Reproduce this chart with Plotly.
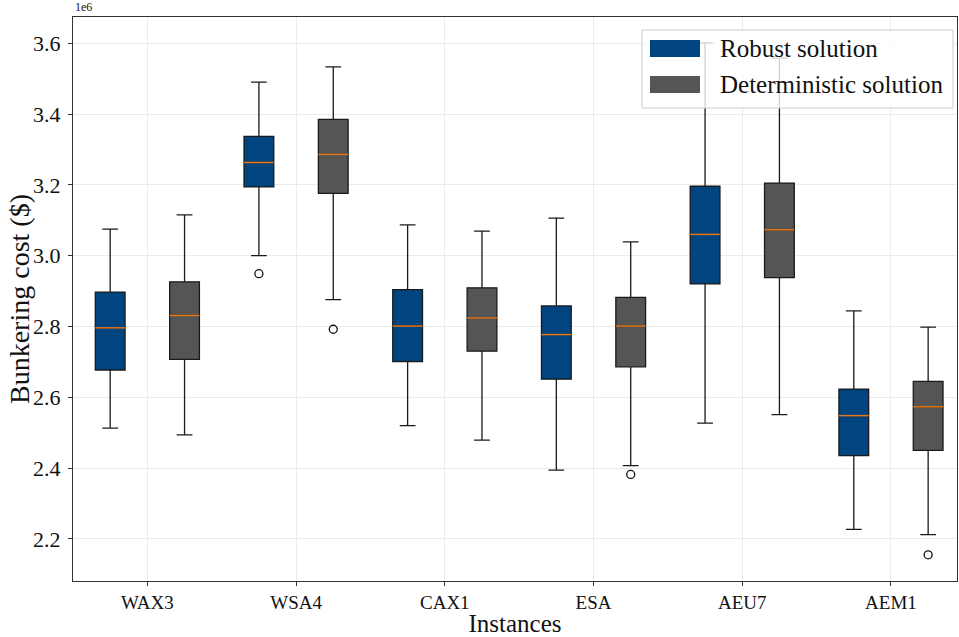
import plotly.graph_objects as go

# Instances and box statistics (bunkering cost, in millions of $)
instances = ["WAX3", "WSA4", "CAX1", "ESA", "AEU7", "AEM1"]

robust_lower = [2.513, 3.000, 2.520, 2.394, 2.527, 2.227]
robust_q1 = [2.677, 3.194, 2.701, 2.651, 2.920, 2.435]
robust_median = [2.796, 3.263, 2.801, 2.777, 3.060, 2.548]
robust_q3 = [2.897, 3.337, 2.904, 2.858, 3.196, 2.623]
robust_upper = [3.075, 3.490, 3.087, 3.106, 3.601, 2.844]
robust_outliers_x = ["WSA4"]
robust_outliers_y = [2.949]

det_lower = [2.494, 2.876, 2.479, 2.407, 2.551, 2.212]
det_q1 = [2.707, 3.176, 2.730, 2.686, 2.938, 2.450]
det_median = [2.831, 3.286, 2.824, 2.801, 3.073, 2.573]
det_q3 = [2.926, 3.385, 2.909, 2.882, 3.205, 2.645]
det_upper = [3.115, 3.533, 3.069, 3.039, 3.558, 2.798]
det_outliers_x = ["WSA4", "ESA", "AEM1"]
det_outliers_y = [2.792, 2.382, 2.155]

y_ticks = [2.2, 2.4, 2.6, 2.8, 3.0, 3.2, 3.4, 3.6]

ROBUST_COLOR = "#00457f"
DET_COLOR = "#555555"
MEDIAN_COLOR = "#e8781a"
FONT = "Liberation Serif"
OFFSET = 0.25
BOX_W = 0.2

idx = {name: i for i, name in enumerate(instances)}

fig = go.Figure()


def add_series(shift, lower, q1, med, q3, upper, out_x, out_y, color):
    xs = [i + shift for i in range(len(instances))]
    fig.add_trace(go.Box(
        x=xs, lowerfence=lower, q1=q1, median=med, q3=q3, upperfence=upper,
        width=BOX_W, whiskerwidth=0.53, fillcolor=color,
        line=dict(color="#1a1a1a", width=1.3), boxpoints=False,
        showlegend=False, hoverinfo="skip",
    ))
    # orange median bars
    mx, my = [], []
    for x, m in zip(xs, med):
        mx += [x - BOX_W / 2, x + BOX_W / 2, None]
        my += [m, m, None]
    fig.add_trace(go.Scatter(x=mx, y=my, mode="lines",
                             line=dict(color=MEDIAN_COLOR, width=1.5),
                             showlegend=False, hoverinfo="skip"))
    # flier points
    fig.add_trace(go.Scatter(
        x=[idx[n] + shift for n in out_x], y=out_y, mode="markers",
        marker=dict(symbol="circle-open", size=8, color="#111111",
                    line=dict(width=1.3)),
        showlegend=False, hoverinfo="skip"))


add_series(-OFFSET, robust_lower, robust_q1, robust_median, robust_q3,
           robust_upper, robust_outliers_x, robust_outliers_y, ROBUST_COLOR)
add_series(OFFSET, det_lower, det_q1, det_median, det_q3,
           det_upper, det_outliers_x, det_outliers_y, DET_COLOR)

axis_common = dict(
    showline=True, linecolor="#333333", linewidth=1.2, mirror=True,
    ticks="outside", ticklen=4, tickcolor="#333333",
    showgrid=True, gridcolor="#ebebeb", gridwidth=1, zeroline=False,
)

fig.update_layout(
    width=959, height=637,
    margin=dict(l=73, r=2, t=17, b=56),
    paper_bgcolor="white", plot_bgcolor="white",
    font=dict(family=FONT, color="#111111"),
    boxmode="overlay",
    xaxis=dict(
        range=[-0.5, 5.444], tickmode="array",
        tickvals=list(range(len(instances))), ticktext=instances,
        tickfont=dict(size=19, family=FONT),
        title=dict(text="Instances", font=dict(size=25, family=FONT), standoff=2),
        **axis_common,
    ),
    yaxis=dict(
        range=[2.081, 3.674], tickmode="array",
        tickvals=y_ticks, ticktext=[f"{v:.1f}" for v in y_ticks],
        tickfont=dict(size=22, family=FONT), ticklabelstandoff=3,
        **axis_common,
    ),
)

# pixel helpers for paper-coordinate placement
W, H = 884, 564
L, T = 73, 17


def px(x):
    return (x - L) / W


def py(y):
    return 1 - (y - T) / H


# y-axis title
fig.add_annotation(text="Bunkering cost ($)", xref="paper", yref="paper",
                   x=px(19), y=0.5, xanchor="center", yanchor="middle",
                   textangle=-90, showarrow=False,
                   font=dict(size=28, family=FONT, color="#111111"))

# scale offset label
fig.add_annotation(text="1e6", xref="paper", yref="paper", x=0, y=1,
                   xanchor="left", yanchor="bottom", showarrow=False,
                   font=dict(size=12, family=FONT), xshift=0, yshift=1)

# legend panel
fig.add_shape(type="rect", xref="paper", yref="paper",
              x0=px(642), x1=px(953), y0=py(108), y1=py(30),
              fillcolor="rgba(255,255,255,0.8)", line=dict(color="#cccccc", width=1),
              layer="above")
legend_items = [("Robust solution", ROBUST_COLOR, 40, 57),
                ("Deterministic solution", DET_COLOR, 76, 93)]
for label, color, ytop, ybot in legend_items:
    fig.add_shape(type="rect", xref="paper", yref="paper",
                  x0=px(650), x1=px(700), y0=py(ybot), y1=py(ytop),
                  fillcolor=color, line=dict(color=color, width=0), layer="above")
    fig.add_annotation(text=label, xref="paper", yref="paper",
                       x=px(718), y=py((ytop + ybot) / 2), xanchor="left",
                       yanchor="middle", showarrow=False,
                       font=dict(size=25, family=FONT, color="#111111"))

fig.write_html("out.html")
